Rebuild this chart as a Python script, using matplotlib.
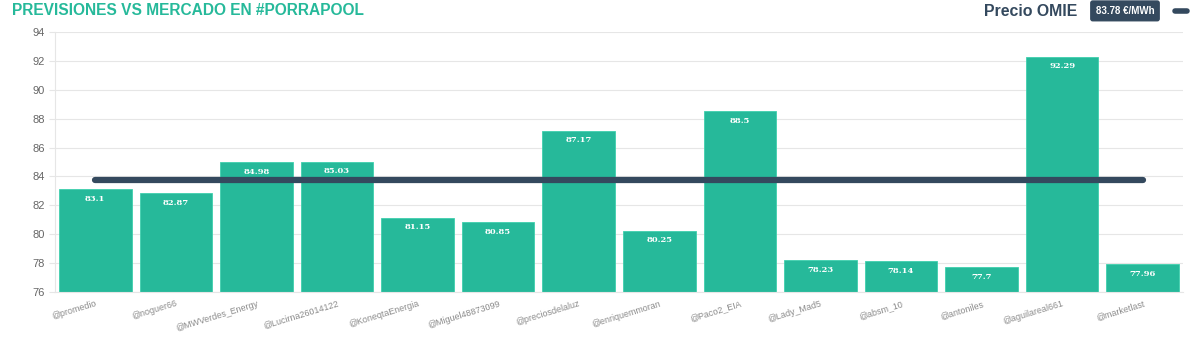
import matplotlib
matplotlib.use('Agg')
import matplotlib.pyplot as plt
import numpy as np

#Data
users = ['@promedio', '@noguer66', '@MWVerdes_Energy', '@Lucirna26014122', '@KoneqtaEnergia',
         '@Miguel48873099', '@preciosdelaluz', '@enriquemmoran', '@Paco2_EIA', '@Lady_Mad5',
         '@absm_10', '@antoniles', '@aguilareal661', '@marketlast']
forecasts = [83.1, 82.87, 84.98, 85.03, 81.15, 80.85, 87.17, 80.25, 88.5, 78.23, 78.14, 77.7, 92.29, 77.96]
omie_price = 83.78

green = '#26b99a'
dark = '#34495e'

fig = plt.figure(figsize=(12, 3.4), dpi=100)
ax = fig.add_axes([0.0458, 0.141, 0.94, 0.765])

x = np.arange(len(users))
bars = ax.bar(x, forecasts, width=0.9, color=green, edgecolor='#3fd0ae', linewidth=0.6,
              bottom=0, zorder=2)
ax.set_ylim(76, 94)
ax.set_xlim(-0.5, len(users) - 0.5)

#Market price line from first to last bar centre
ax.plot([x[0], x[-1]], [omie_price, omie_price], color=dark, linewidth=4.5,
        solid_capstyle='round', zorder=3)

#Value labels inside the top of each bar
for bar, v in zip(bars, forecasts):
    ax.text(bar.get_x() + bar.get_width() / 2, v - 0.4, f'{v:g}', ha='center', va='top',
            color='white', fontsize=6, fontweight='bold', family='DejaVu Serif', zorder=4)

ax.set_yticks(np.arange(76, 95, 2))
ax.tick_params(axis='y', labelsize=8, labelcolor='#666666', length=4, color='#e6e6e6')
for lbl in ax.get_yticklabels():
    lbl.set_family('Liberation Sans')
ax.tick_params(axis='x', length=0, pad=5)
ax.set_xticks(x)
ax.set_xticklabels(users, rotation=17, ha='right', fontsize=6.4, color='#8a8a8a',
                   rotation_mode='anchor', family='Liberation Sans')
ax.grid(axis='y', color='#e6e6e6', linewidth=0.8, zorder=0)
for side in ['top', 'right']:
    ax.spines[side].set_visible(False)
ax.spines['left'].set_color('#e6e6e6')
ax.spines['bottom'].set_color('#e6e6e6')

#Title and legend-like header
fig.text(0.01, 0.97, 'PREVISIONES VS MERCADO EN #PORRAPOOL', color=green, fontsize=11.2,
         fontweight='bold', ha='left', va='center', family='Liberation Sans')
fig.text(0.8975, 0.965, 'Precio OMIE', color=dark, fontsize=11.4, fontweight='bold',
         ha='right', va='center', family='Liberation Sans')
fig.text(0.9375, 0.968, f'{omie_price} €/MWh', color='white', fontsize=7, fontweight='bold',
         ha='center', va='center', family='Liberation Sans',
         bbox=dict(boxstyle='round,pad=0.5,rounding_size=0.2', fc=dark, ec=dark))
fig.add_artist(plt.Line2D([0.979, 0.989], [0.968, 0.968], color=dark, linewidth=4,
                          solid_capstyle='round'))

fig.savefig('out.png', dpi=100)
plt.close()
